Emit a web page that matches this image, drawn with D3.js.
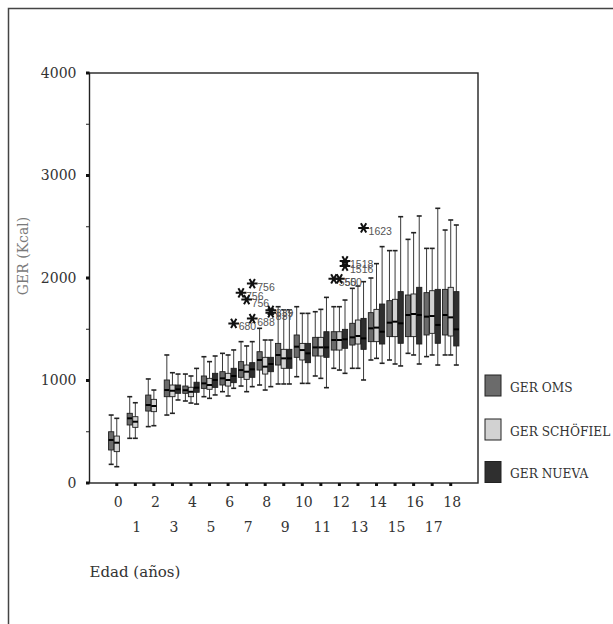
<!DOCTYPE html>
<html>
<head>
<meta charset="utf-8">
<script src="https://cdn.jsdelivr.net/npm/d3@7"></script>
<style>
  body { margin: 0; background: #fff; }
  svg { display: block; }
</style>
</head>
<body>
<div id="chart"></div>
<script>
// ---- data ----
const ages = [0, 1, 2, 3, 4, 5, 6, 7, 8, 9, 10, 11, 12, 13, 14, 15, 16, 17, 18];
const seriesNames = ["GER OMS", "GER SCHÖFIEL", "GER NUEVA"];

// [low whisker, Q1, median, Q3, high whisker] per age
const gerOms = [
  [182, 322, 420, 500, 663],
  [436, 566, 631, 680, 842],
  [550, 702, 761, 858, 1015],
  [663, 842, 907, 1005, 1249],
  [800, 875, 905, 946, 1063],
  [842, 923, 972, 1044, 1232],
  [891, 956, 1021, 1086, 1265],
  [946, 1031, 1102, 1184, 1379],
  [956, 1102, 1200, 1281, 1509],
  [966, 1151, 1249, 1362, 1720],
  [1037, 1226, 1330, 1444, 1720],
  [1044, 1239, 1323, 1421, 1671],
  [1119, 1297, 1395, 1476, 1720],
  [1119, 1346, 1421, 1558, 1899],
  [1200, 1379, 1509, 1662, 2000],
  [1200, 1428, 1564, 1779, 2267],
  [1265, 1428, 1639, 1834, 2377],
  [1233, 1444, 1623, 1857, 2289],
  [1249, 1444, 1639, 1889, 2468]
];
const gerSchofield = [
  [159, 306, 393, 458, 631],
  [436, 543, 598, 647, 783],
  [559, 696, 751, 816, 907],
  [680, 842, 900, 956, 1076],
  [780, 842, 890, 934, 1044],
  [826, 914, 956, 1021, 1184],
  [849, 946, 1005, 1070, 1249],
  [891, 1011, 1086, 1151, 1337],
  [907, 1063, 1135, 1226, 1395],
  [966, 1119, 1216, 1304, 1690],
  [972, 1200, 1297, 1362, 1655],
  [1021, 1239, 1323, 1421, 1694],
  [1102, 1297, 1395, 1476, 1720],
  [1119, 1356, 1434, 1590, 1922],
  [1216, 1379, 1516, 1694, 2140],
  [1161, 1428, 1574, 1792, 2267],
  [1249, 1428, 1649, 1844, 2442],
  [1249, 1460, 1629, 1876, 2289],
  [1249, 1434, 1616, 1909, 2566]
];
const gerNueva = [
  null, null, null,
  [810, 875, 914, 956, 1063],
  [770, 885, 930, 983, 1118],
  [859, 933, 1005, 1070, 1239],
  [924, 979, 1044, 1119, 1298],
  [940, 1031, 1109, 1174, 1379],
  [940, 1086, 1161, 1226, 1395],
  [966, 1119, 1216, 1304, 1690],
  [972, 1174, 1265, 1362, 1655],
  [930, 1226, 1323, 1476, 1811],
  [1070, 1314, 1402, 1499, 1785],
  [1005, 1304, 1411, 1606, 1964],
  [1168, 1356, 1476, 1746, 2306],
  [1142, 1363, 1558, 1867, 2598],
  [1161, 1356, 1639, 1909, 2605],
  [1151, 1363, 1542, 1889, 2680],
  [1151, 1337, 1499, 1867, 2517]
];

// extreme cases: [age, series index, value, case label]
const outliers = [
  [6, 2, 1557, "680"],
  [7, 0, 1856, "756"],
  [7, 1, 1790, "756"],
  [7, 2, 1946, "756"],
  [7, 2, 1604, "688"],
  [8, 2, 1685, "839"],
  [8, 2, 1660, "837"],
  [12, 0, 1992, "550"],
  [12, 1, 1992, "550"],
  [12, 2, 2167, "1518"],
  [12, 2, 2117, "1516"],
  [13, 2, 2489, "1623"]
];

const yTicks = [0, 1000, 2000, 3000, 4000];
const yMinorTicks = [500, 1500, 2500, 3500];

// ---- layout ----
let width = 613, height = 624;
let plot = { left: 89.5, right: 478, top: 73, bottom: 483 };
const fills = ["#6b6b6b", "#d2d2d2", "#2f2f2f"];
const serif = "'DejaVu Serif', serif";
const slot = 5.6, boxW = 5.2;

const svg = d3.select("#chart")
  .append("svg")
  .attr("width", width)
  .attr("height", height);

// outer page frame (only top and left visible)
svg.append("path")
  .attr("d", `M8.5,${height} V8.5 H${width}`)
  .attr("fill", "none")
  .attr("stroke", "#444")
  .attr("stroke-width", 1.5);

const x = d3.scaleBand()
  .domain(ages)
  .range([plot.left, plot.right])
  .paddingInner(0)
  .paddingOuter(0.97);

const y = d3.scaleLinear()
  .domain([0, 4000])
  .range([plot.bottom, plot.top]);

const cx = (age, s) => x(age) + x.bandwidth() / 2 + (s - 1) * slot;

// plot frame
svg.append("rect")
  .attr("x", plot.left)
  .attr("y", plot.top)
  .attr("width", plot.right - plot.left)
  .attr("height", plot.bottom - plot.top)
  .attr("fill", "none")
  .attr("stroke", "#222")
  .attr("stroke-width", 1.4);

// Y axis labels
const yAxis = svg.append("g")
  .attr("transform", `translate(${plot.left},0)`)
  .call(d3.axisLeft(y).tickValues(yTicks).tickSize(0).tickPadding(13).tickFormat(d3.format("d")));
yAxis.select(".domain").remove();
yAxis.selectAll("text")
  .attr("font-family", serif)
  .attr("font-size", 14)
  .attr("fill", "#333");

// major tick squares + minor ticks
svg.selectAll(".ymajor")
  .data(yTicks)
  .enter()
  .append("rect")
  .attr("x", plot.left - 3.5)
  .attr("y", d => y(d) - 1.5)
  .attr("width", 3.5)
  .attr("height", 3)
  .attr("fill", "#111");
svg.selectAll(".yminor")
  .data(yMinorTicks)
  .enter()
  .append("line")
  .attr("x1", plot.left - 3.5)
  .attr("x2", plot.left)
  .attr("y1", d => y(d))
  .attr("y2", d => y(d))
  .attr("stroke", "#222")
  .attr("stroke-width", 1);

// X axis, labels staggered on two rows
const xAxis = svg.append("g")
  .attr("transform", `translate(0,${plot.bottom})`)
  .call(d3.axisBottom(x).tickSize(0));
xAxis.select(".domain").remove();
xAxis.selectAll("text")
  .attr("font-family", serif)
  .attr("font-size", 14)
  .attr("fill", "#333")
  .attr("dy", 0)
  .attr("x", 1.5)
  .attr("y", d => d % 2 === 0 ? 23.5 : 48.5);

svg.selectAll(".xdot")
  .data(ages)
  .enter()
  .append("rect")
  .attr("x", d => x(d) + x.bandwidth() / 2 - 1.5)
  .attr("y", plot.bottom)
  .attr("width", 3)
  .attr("height", 3)
  .attr("fill", "#111");

// boxes
const allSeries = [gerOms, gerSchofield, gerNueva];
const boxes = [];
allSeries.forEach((arr, s) => {
  arr.forEach((st, i) => {
    if (st) boxes.push({ age: ages[i], s: s, st: st });
  });
});

const g = svg.append("g");
boxes.forEach(b => {
  const c = cx(b.age, b.s);
  const [lo, q1, med, q3, hi] = b.st;
  g.append("line")
    .attr("x1", c).attr("x2", c)
    .attr("y1", y(hi)).attr("y2", y(lo))
    .attr("stroke", "#3a3a3a").attr("stroke-width", 1);
  [lo, hi].forEach(v => {
    g.append("line")
      .attr("x1", c - 2.5).attr("x2", c + 2.5)
      .attr("y1", y(v)).attr("y2", y(v))
      .attr("stroke", "#222").attr("stroke-width", 1.6);
  });
  g.append("rect")
    .attr("x", c - boxW / 2)
    .attr("y", y(q3))
    .attr("width", boxW)
    .attr("height", y(q1) - y(q3))
    .attr("fill", fills[b.s])
    .attr("stroke", "#1e1e1e")
    .attr("stroke-width", 0.9);
  g.append("line")
    .attr("x1", c - boxW / 2).attr("x2", c + boxW / 2)
    .attr("y1", y(med)).attr("y2", y(med))
    .attr("stroke", "#000").attr("stroke-width", 2);
});

// outliers (asterisks) with case numbers
const star = d3.symbol(d3.symbolAsterisk, 80);
outliers.forEach(o => {
  const px = cx(o[0], o[1]), py = y(o[2]);
  svg.append("path")
    .attr("d", star())
    .attr("transform", `translate(${px},${py}) rotate(90)`)
    .attr("fill", "none")
    .attr("stroke", "#111")
    .attr("stroke-width", 2);
  svg.append("text")
    .attr("x", px + 5)
    .attr("y", py + 7)
    .attr("font-family", "'Liberation Sans', Arial, sans-serif")
    .attr("font-size", 10.5)
    .attr("fill", "#555")
    .text(o[3]);
});

// axis titles
svg.append("text")
  .attr("transform", "translate(23,256) rotate(-90)")
  .attr("text-anchor", "middle")
  .attr("dominant-baseline", "central")
  .attr("font-family", serif)
  .attr("font-size", 14)
  .attr("fill", "#7a7a7a")
  .text("GER (Kcal)");

svg.append("text")
  .attr("x", plot.left)
  .attr("y", 577)
  .attr("font-family", serif)
  .attr("font-size", 15)
  .attr("fill", "#333")
  .text("Edad (años)");

// legend
const legY = [375, 419, 461.5];
seriesNames.forEach((name, i) => {
  svg.append("rect")
    .attr("x", 485)
    .attr("y", legY[i])
    .attr("width", 16)
    .attr("height", 21)
    .attr("fill", fills[i])
    .attr("stroke", "#222")
    .attr("stroke-width", 1);
  svg.append("text")
    .attr("x", 510)
    .attr("y", legY[i] + 16.5)
    .attr("font-family", serif)
    .attr("font-size", 12.2)
    .attr("fill", "#333")
    .text(name);
});
</script>
</body>
</html>
